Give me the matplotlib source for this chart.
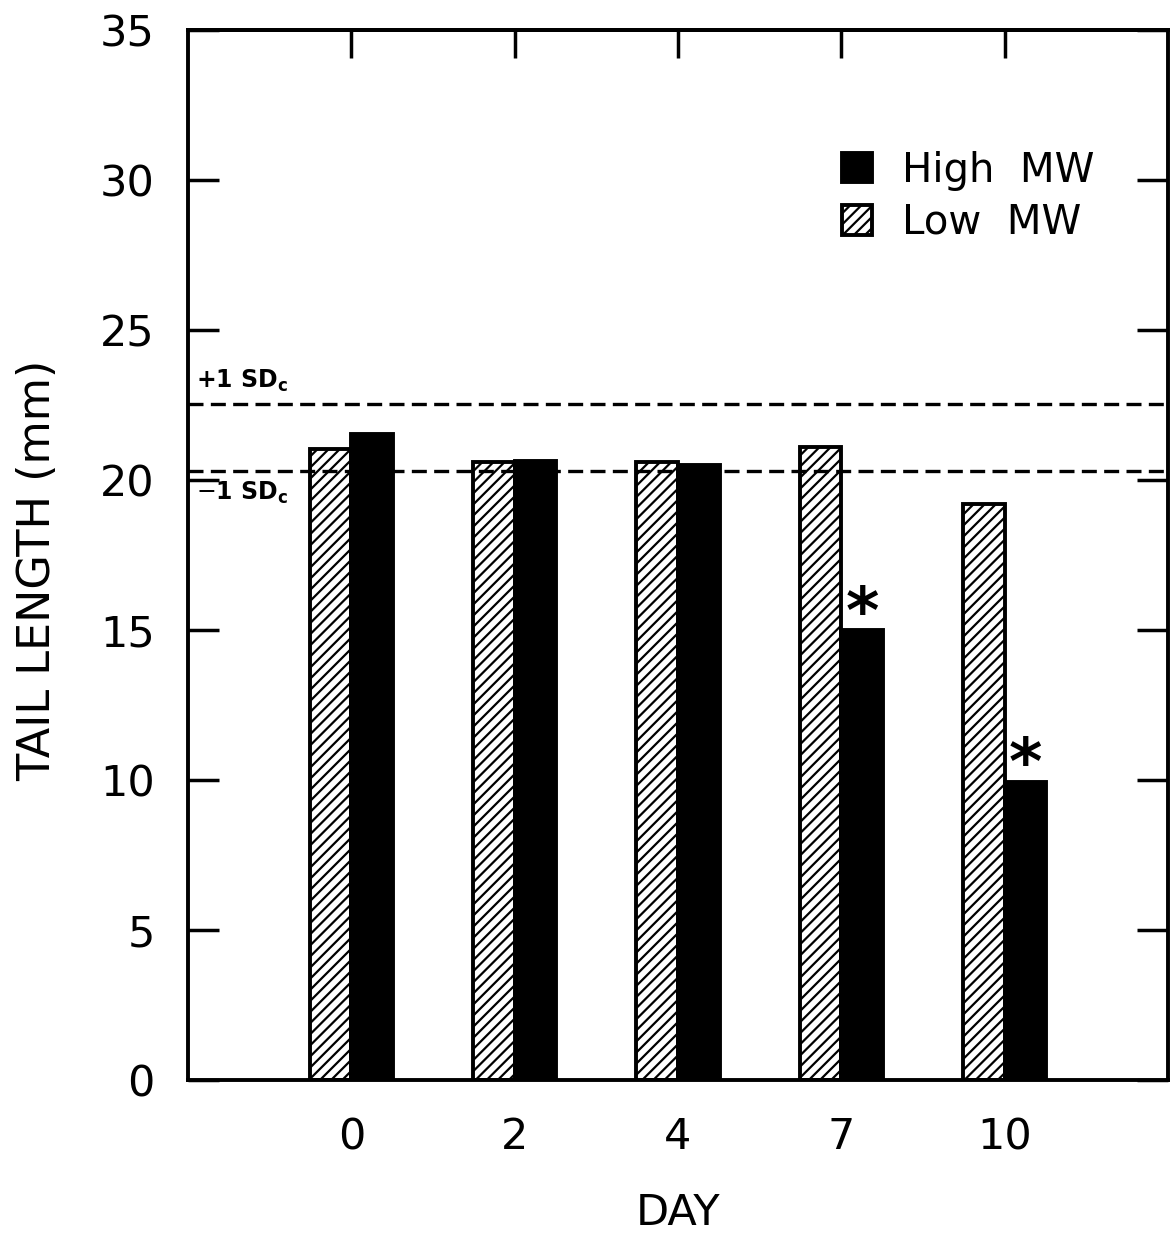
import matplotlib
matplotlib.use("Agg")
import matplotlib.pyplot as plt
import numpy as np

days = ["0", "2", "4", "7", "10"]
low_mw = [21.05, 20.6, 20.6, 21.1, 19.2]
high_mw = [21.55, 20.65, 20.5, 15.0, 9.95]
sd_plus = 22.55
sd_minus = 20.3
significant = [False, False, False, True, True]

plt.rcParams['font.family'] = ['DejaVu Sans']
plt.rcParams['hatch.linewidth'] = 1.6

fig = plt.figure(figsize=(11.75, 12.43), dpi=100)
ax = fig.add_axes([188/1175, 1 - 1080/1243, 980/1175, 1050/1243])

x = np.arange(1, len(days) + 1)
w = 0.255
bl = ax.bar(x - w/2, low_mw, w, color='white', edgecolor='black', hatch='///', linewidth=2.8, label='Low MW')
bh = ax.bar(x + w/2, high_mw, w, color='black', edgecolor='black', linewidth=2.8, label='High MW')

ax.axhline(sd_plus, color='black', linestyle=(0, (4.5, 2.2)), linewidth=2.4)
ax.axhline(sd_minus, color='black', linestyle=(0, (4.5, 2.2)), linewidth=2.4)
ax.text(0.05, sd_plus + 0.3, r'+1 SD$_\mathbf{c}$', fontsize=17, fontweight='bold', ha='left', va='bottom')
ax.text(0.05, sd_minus - 0.3, r'$-$1 SD$_\mathbf{c}$', fontsize=17, fontweight='bold', ha='left', va='top')

for xi, h, s in zip(x, high_mw, significant):
    if s:
        ax.text(xi + w/2, h + 0.5, '*', fontsize=46, fontweight='bold', ha='center', va='center')

ax.set_xlim(0, 6)
ax.set_ylim(0, 35)
ax.set_yticks(np.arange(0, 36, 5))
ax.set_xticks(x)
ax.set_xticklabels(days)
ax.tick_params(axis='y', direction='in', length=22, width=2.5, labelsize=31, pad=24, right=True)
ax.tick_params(axis='x', direction='in', length=0, labelsize=31, pad=26)
for sp in ax.spines.values():
    sp.set_linewidth(2.8)

sec = ax.secondary_xaxis('top')
sec.set_ticks(x, labels=[])
sec.tick_params(direction='in', length=20, width=2.5)
sec.spines['top'].set_linewidth(2.8)

fig.text(678/1175, 1 - 1213/1243, 'DAY', fontsize=31, ha='center', va='center')
fig.text(38/1175, 1 - 570/1243, 'TAIL LENGTH (mm)', fontsize=32, ha='center', va='center', rotation=90)

ax.legend(handles=[bh, bl], labels=['High  MW', 'Low  MW'], loc='upper left',
          bbox_to_anchor=(0.667, 0.885), frameon=False, fontsize=29,
          handlelength=0.75, handleheight=0.75, handletextpad=0.75,
          labelspacing=0.3, borderpad=0, borderaxespad=0)

fig.savefig('out.png', dpi=100)
